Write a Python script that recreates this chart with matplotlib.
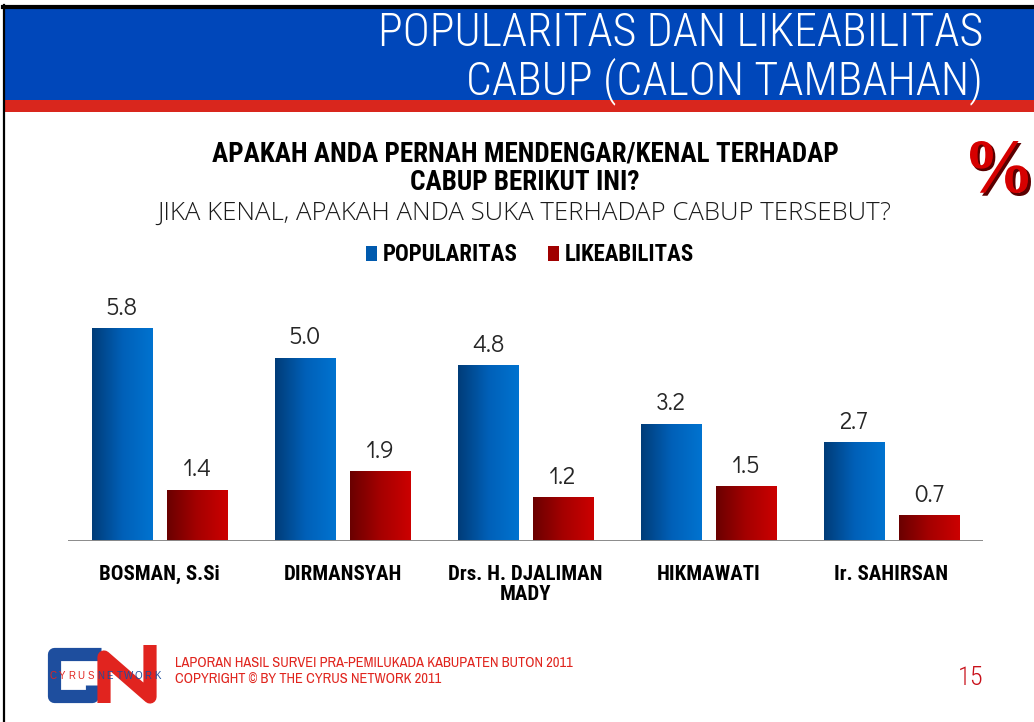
import matplotlib
matplotlib.use("Agg")
import matplotlib.pyplot as plt
import numpy as np
from matplotlib.patches import Rectangle, PathPatch
from matplotlib.colors import LinearSegmentedColormap
from matplotlib.lines import Line2D
from matplotlib.textpath import TextPath
from matplotlib.font_manager import FontProperties
from matplotlib.transforms import Affine2D

# ---------------- data ----------------
categories = ["BOSMAN, S.Si", "DIRMANSYAH", "Drs. H. DJALIMAN\nMADY", "HIKMAWATI", "Ir. SAHIRSAN"]
popularitas = [5.8, 5.0, 4.8, 3.2, 2.7]
likeabilitas = [1.4, 1.9, 1.2, 1.5, 0.7]
series_names = ["POPULARITAS", "LIKEABILITAS"]

title_lines = ["POPULARITAS DAN LIKEABILITAS", "CABUP (CALON TAMBAHAN)"]
question_bold = ["APAKAH ANDA PERNAH MENDENGAR/KENAL TERHADAP", "CABUP BERIKUT INI?"]
question_reg = "JIKA KENAL, APAKAH ANDA SUKA TERHADAP CABUP TERSEBUT?"
footer_lines = ["LAPORAN HASIL SURVEI PRA-PEMILUKADA KABUPATEN BUTON 2011",
                "COPYRIGHT \u00a9 BY THE CYRUS NETWORK 2011"]
page_number = "15"
logo_words = ["CYRUS", "NETWORK"]

# ---------------- style ----------------
W, H = 1034, 722
BLUE_HDR = "#0047BA"
RED_STRIPE = "#D9261D"
COND = "Roboto Condensed"
NARROW = "Archivo Narrow"
NUMF = "Didact Gothic"

fig = plt.figure(figsize=(W / 100, H / 100), dpi=100)
fig.patch.set_facecolor("white")

# decoration layer in pixel coordinates
deco = fig.add_axes([0, 0, 1, 1], zorder=0)
deco.set_xlim(0, W)
deco.set_ylim(H, 0)
deco.axis("off")

# frame & header
deco.add_patch(Rectangle((4, 9), W - 4, 91, facecolor=BLUE_HDR, edgecolor="none"))
deco.add_patch(Rectangle((4, 100), W - 4, 12, facecolor=RED_STRIPE, edgecolor="none"))
deco.add_line(Line2D([3, W], [7, 7], color="black", lw=3))
deco.add_line(Line2D([3.5, 3.5], [5, H], color="black", lw=1.6))

deco.text(983, 33, title_lines[0], ha="right", va="center", color="white",
          fontsize=33, family=COND, fontweight="light")
deco.text(983, 81, title_lines[1], ha="right", va="center", color="white",
          fontsize=33, family=COND, fontweight="light")

deco.text(525, 154, question_bold[0], ha="center", va="center", color="black",
          fontsize=19.5, family=COND, fontweight="bold")
deco.text(525, 182, question_bold[1], ha="center", va="center", color="black",
          fontsize=19.5, family=COND, fontweight="bold")
deco.text(524, 213, question_reg, ha="center", va="center", color="#1a1a1a",
          fontsize=18.5, family="Open Sans", fontweight="light")

# % sign (bold serif glyph stretched into its box)
fp = FontProperties(family="Liberation Serif", weight="bold")
tp = TextPath((0, 0), "%", prop=fp, size=100)
bb = tp.get_extents()
def pct_patch(x0, y0, x1, y1, color):
    tr = (Affine2D().translate(-bb.x0, -bb.y0)
          .scale((x1 - x0) / bb.width, -(y1 - y0) / bb.height)
          .translate(x0, y1))
    return PathPatch(tr.transform_path(tp), facecolor=color, edgecolor="none")
deco.add_patch(pct_patch(972, 143, 1031, 196, "#5a0000"))
deco.add_patch(pct_patch(970, 141, 1028, 193, "#D60000"))

# footer
deco.text(175, 663, footer_lines[0], ha="left", va="center", color="#E0251E",
          fontsize=10.4, family=NARROW)
deco.text(175, 680, footer_lines[1], ha="left", va="center", color="#E0251E",
          fontsize=10.4, family=NARROW)
deco.text(983, 678, page_number, ha="right", va="center", color="#C8101A",
          fontsize=19, family=COND, fontweight="light")

# logo (approximate)
LB, LR = "#1E4E9E", "#E1241F"
deco.add_line(Line2D([101, 54, 54, 92, 92], [654, 654, 696, 696, 685],
                     color=LB, lw=9.5, solid_joinstyle="round", solid_capstyle="butt"))
deco.add_line(Line2D([104, 104, 150, 150], [703, 657, 697, 645],
                     color=LR, lw=9.5, solid_joinstyle="round", solid_capstyle="butt"))
deco.add_patch(Rectangle((46, 669), 118, 14, facecolor="white", edgecolor="none"))
letters = "".join(logo_words)
for i, ch in enumerate(letters):
    deco.text(48 + 9.5 * i + 4.75, 676, ch, ha="center", va="center",
              color=LR if i < len(logo_words[0]) else LB, fontsize=7,
              family="Liberation Sans")

# ---------------- main chart ----------------
ax = fig.add_axes([68 / W, (H - 541) / H, (983 - 68) / W, 241 / H], zorder=2)
ax.patch.set_alpha(0)
x = np.arange(len(categories))
bw = 0.333
off = 0.205
b1 = ax.bar(x - off, popularitas, bw, color="#005AAE", label=series_names[0], zorder=2)
b2 = ax.bar(x + off, likeabilitas, bw, color="#A00000", label=series_names[1], zorder=2)

cm_blue = LinearSegmentedColormap.from_list("b", ["#003C78", "#0060B8", "#0073D0"])
cm_red = LinearSegmentedColormap.from_list("r", ["#6A0000", "#A50000", "#CC0000"])
grad = np.linspace(0, 1, 256).reshape(1, -1)
for bars, cm in ((b1, cm_blue), (b2, cm_red)):
    for p in bars:
        x0, y0, w, h = p.get_x(), p.get_y(), p.get_width(), p.get_height()
        im = ax.imshow(grad, cmap=cm, extent=[x0, x0 + w, y0, y0 + h],
                       aspect="auto", zorder=3, interpolation="bilinear")
        im.set_clip_path(p)

ax.set_xlim(-0.5, len(categories) - 0.5)
ax.set_ylim(0, 6.57)
for s in ax.spines.values():
    s.set_visible(False)
ax.axhline(0, color="#8a8a8a", lw=1.4, zorder=4)
ax.set_yticks([])
ax.set_xticks(x)
ax.set_xticklabels(categories, family=COND, fontweight="bold", fontsize=15,
                   linespacing=1.1)
ax.tick_params(axis="x", length=0, pad=17)

for bars in (b1, b2):
    ax.bar_label(bars, fmt="%.1f", padding=6, fontsize=17.5, family=NUMF,
                 color="#262626")

leg = fig.legend(handles=[b1, b2], labels=series_names, loc="center",
                 bbox_to_anchor=(530 / W, (H - 255) / H), ncol=2, frameon=False,
                 prop={"family": COND, "weight": "bold", "size": 16.5},
                 handlelength=0.48, handleheight=0.64, handletextpad=0.25,
                 columnspacing=1.35)

fig.savefig("out.png", dpi=100)
